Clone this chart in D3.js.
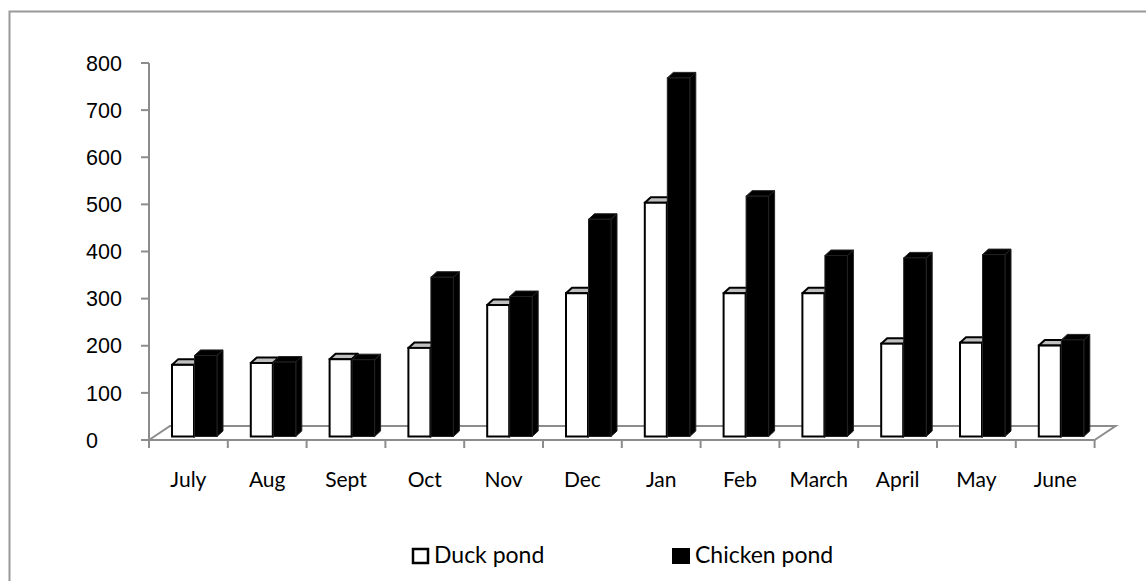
<!DOCTYPE html>
<html>
<head>
<meta charset="utf-8">
<script src="https://cdn.jsdelivr.net/npm/d3@7"></script>
<style>
  body { margin: 0; background: #fff; }
  svg { display: block; }
</style>
</head>
<body>
<script>
'use strict';

const months = ["July", "Aug", "Sept", "Oct", "Nov", "Dec", "Jan", "Feb", "March", "April", "May", "June"];
const seriesNames = ["Duck pond", "Chicken pond"];
const duckPond = [152, 156, 164, 188, 279, 304, 496, 304, 304, 197, 199, 193];
const chickenPond = [172, 158, 163, 338, 297, 461, 761, 510, 384, 379, 386, 205];
const yTicks = [0, 100, 200, 300, 400, 500, 600, 700, 800];

const W = 1146, H = 581;
const svg = d3.select("body").append("svg")
  .attr("width", W)
  .attr("height", H);

// outer frame (runs off the right and bottom edges like the original)
svg.append("rect")
  .attr("x", 9.5).attr("y", 11.5)
  .attr("width", 1200).attr("height", 700)
  .attr("fill", "none")
  .attr("stroke", "#999")
  .attr("stroke-width", 2);

const x = d3.scaleBand().domain(months).range([149, 149 + 12 * 78.8]);
const y = d3.scaleLinear().domain([0, 800]).range([440, 63]);
const xs = d3.scaleBand().domain(seriesNames).range([23, 68]);

// 3d floor depth and bar depth
const floorDx = 21, floorDy = -14;
const barDx = 6, barDy = -5.5;
const barShiftY = -3.5;

const grey = "#8c8c8c";

// floor
const x0 = x.range()[0], x1 = x.range()[1], yb = y(0);
svg.append("path")
  .attr("d", `M${x0},${yb} L${x0 + floorDx},${yb + floorDy} L${x1 + floorDx},${yb + floorDy} L${x1},${yb}`)
  .attr("fill", "none")
  .attr("stroke", grey)
  .attr("stroke-width", 2);

// y axis
svg.append("line")
  .attr("x1", x0).attr("x2", x0)
  .attr("y1", y(800)).attr("y2", yb)
  .attr("stroke", grey).attr("stroke-width", 2);

svg.selectAll(".ytick")
  .data(yTicks)
  .enter().append("line")
  .attr("x1", x0 - 8).attr("x2", x0)
  .attr("y1", d => y(d)).attr("y2", d => y(d))
  .attr("stroke", grey).attr("stroke-width", 2);

svg.selectAll(".ylab")
  .data(yTicks)
  .enter().append("text")
  .attr("x", 86)
  .attr("y", d => y(d))
  .attr("dy", "0.36em")
  .attr("font-family", "Liberation Sans, Arial, sans-serif")
  .attr("font-size", 21.5)
  .attr("fill", "#000")
  .text(d => d);

// x axis
svg.append("line")
  .attr("x1", x0).attr("x2", x1)
  .attr("y1", yb).attr("y2", yb)
  .attr("stroke", grey).attr("stroke-width", 2);

const xTickPos = months.map(m => x(m)).concat([x1]);
svg.selectAll(".xtick")
  .data(xTickPos)
  .enter().append("line")
  .attr("x1", d => d).attr("x2", d => d)
  .attr("y1", yb).attr("y2", yb + 8)
  .attr("stroke", grey).attr("stroke-width", 2);

svg.selectAll(".xlab")
  .data(months)
  .enter().append("text")
  .attr("x", d => x(d) + x.bandwidth() / 2)
  .attr("y", 487)
  .attr("text-anchor", "middle")
  .attr("font-family", "Lato, Open Sans, sans-serif")
  .attr("font-size", 21)
  .attr("fill", "#000")
  .text(d => d);

// bars
function bar(g, left, w, v, front, top, side, stroke, sw) {
  const yt = y(v) + barShiftY;
  const yB = y(0) + barShiftY;
  const r = left + w;
  g.append("path")
    .attr("d", `M${r},${yt} L${r + barDx},${yt + barDy} L${r + barDx},${yB + barDy} L${r},${yB}Z`)
    .attr("fill", side).attr("stroke", stroke).attr("stroke-width", sw).attr("stroke-linejoin", "round");
  g.append("path")
    .attr("d", `M${left},${yt} L${left + barDx},${yt + barDy} L${r + barDx},${yt + barDy} L${r},${yt}Z`)
    .attr("fill", top).attr("stroke", stroke).attr("stroke-width", sw).attr("stroke-linejoin", "round");
  g.append("rect")
    .attr("x", left).attr("y", yt)
    .attr("width", w).attr("height", yB - yt)
    .attr("fill", front).attr("stroke", stroke).attr("stroke-width", sw);
}

const bars = svg.append("g");
months.forEach((m, i) => {
  const g = bars.append("g");
  bar(g, x(m) + xs("Duck pond"), xs.bandwidth() - 0.5, duckPond[i], "#fff", "#c0c0c0", "#fff", "#000", 2);
  bar(g, x(m) + xs("Chicken pond"), xs.bandwidth(), chickenPond[i], "#000", "#000", "#000", "#222", 1);
});

// legend
const legend = svg.append("g");
legend.append("rect")
  .attr("x", 413).attr("y", 549).attr("width", 15).attr("height", 14)
  .attr("fill", "#fff").attr("stroke", "#000").attr("stroke-width", 2.5);
legend.append("text")
  .attr("x", 434).attr("y", 563)
  .attr("font-family", "Lato, Open Sans, sans-serif")
  .attr("font-size", 23)
  .text(seriesNames[0]);
legend.append("rect")
  .attr("x", 672).attr("y", 548).attr("width", 18).attr("height", 16)
  .attr("fill", "#000");
legend.append("text")
  .attr("x", 695).attr("y", 563)
  .attr("font-family", "Lato, Open Sans, sans-serif")
  .attr("font-size", 23)
  .text(seriesNames[1]);
</script>
</body>
</html>
